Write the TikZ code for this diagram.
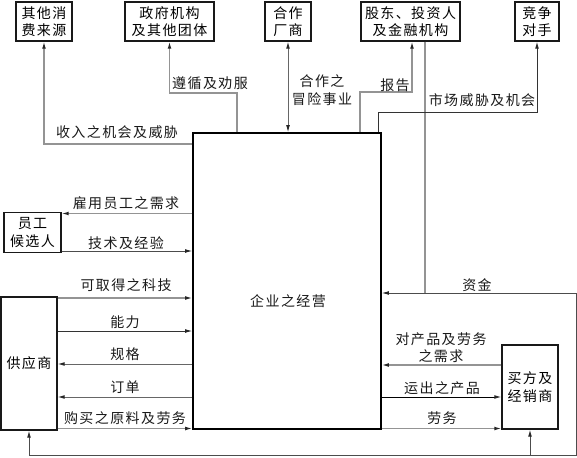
\documentclass[tikz,border=0pt]{standalone}
\usepackage{fontspec}
\setmainfont[LetterSpace=10]{Noto Sans CJK SC}
\usetikzlibrary{arrows.meta,calc}
\begin{document}
\begin{tikzpicture}[x=1pt,y=-1pt,
  font=\fontsize{14}{17.5}\selectfont,
  box/.style={draw=black!90,line width=1.3pt,inner sep=0pt,align=center},
  mainbox/.style={draw=black,line width=1.6pt,inner sep=0pt},
  lbl/.style={inner sep=0pt,align=center,text=black!90},
  lg/.style={draw=black!42,line width=1.2pt},
  dk/.style={draw=black!80,line width=0.9pt},
  tip/.style={-{Latex[length=7pt,width=3.8pt,color=black!85]}},
  tipb/.style={{Latex[length=7pt,width=3.8pt,color=black!85]}-{Latex[length=7pt,width=3.8pt,color=black!85]}}]
\useasboundingbox (0,0) rectangle (577,457);

% boxes
\node[box,minimum width=56pt,minimum height=39pt] (A) at (44,21.5) {其他消\\费来源};
\node[box,minimum width=89pt,minimum height=39pt] (B) at (169.5,21.5) {政府机构\\及其他团体};
\node[box,minimum width=46pt,minimum height=39pt] (C) at (288,21.5) {合作\\厂商};
\node[box,minimum width=99pt,minimum height=39pt] (D) at (410.5,21.5) {股东、投资人\\及金融机构};
\node[box,minimum width=44pt,minimum height=39pt] (E) at (537,21.5) {竞争\\对手};
\node[mainbox,minimum width=188pt,minimum height=296pt] (M) at (287,281) {};
\node[lbl] (Mt) at (288,301) {企业之经营};
\node[box,minimum width=57pt,minimum height=40pt] (F) at (32.5,232.5) {员工\\候选人};
\node[box,minimum width=56pt,minimum height=133pt] (G) at (29,363.5) {供应商};
\node[box,minimum width=56pt,minimum height=84pt] (H) at (530,387) {买方及\\经销商};

% helper coordinates
\coordinate (p1) at (45,144);
\coordinate (q1) at (237,93);
\coordinate (r1) at (360,92);
\coordinate (m1) at (378,112);
\coordinate (s1) at (425,293);
\coordinate (y213) at (0,213.5);
\coordinate (y251) at (0,251);
\coordinate (y297) at (0,298);
\coordinate (y331) at (0,331);
\coordinate (y364) at (0,364);
\coordinate (y397) at (0,397);
\coordinate (y429) at (0,428.5);
\coordinate (y365) at (0,365);
\coordinate (fr) at (576,293);
\coordinate (fb) at (576,455);

% top connectors
\draw[lg,tip] (M.west |- p1) -| (A.south);
\draw[lg,tip] (M.north -| q1) -- (q1) -| (B.south);
\draw[dk,draw=black!60,tipb] (C.south) -- (C.south |- M.north);
\draw[lg,tip] (M.north -| r1) -- (r1) -| ([xshift=1.5pt]D.south);
\draw[lg] ([xshift=14.5pt]D.south) -- (s1);
\draw[dk,tip] (M.north -| m1) -- (m1) -| (E.south);

% left connectors
\draw[lg,tip] (M.west |- y213) -- (F.east |- y213);
\draw[dk,draw=black!70,tip] (F.east |- y251) -- (M.west |- y251);
\draw[lg,tip] (G.east |- y297) -- (M.west |- y297);
\draw[dk,tip] (G.east |- y331) -- (M.west |- y331);
\draw[dk,draw=black!60,tip] (M.west |- y364) -- (G.east |- y364);
\draw[dk,draw=black!60,tip] (M.west |- y397) -- (G.east |- y397);
\draw[lg,tip] (G.east |- y429) -- (M.west |- y429);

% right connectors
\draw[dk,draw=black!70] (G.south |- fb) -- (fb) -- (fr);
\draw[dk,draw=black!70,tip] (fr) -- (M.east |- fr);
\draw[dk,draw=black!70,tip] (G.south |- fb) -- (G.south);
\draw[dk,draw=black!70,tip] (H.south |- fb) -- (H.south);
\draw[lg,tip] (H.west |- y365) -- (M.east |- y365);
\draw[dk,draw=black,tip] (M.east |- y397) -- (H.west |- y397);
\draw[lg,tip] (M.east |- y429) -- (H.west |- y429);

% labels
\node[lbl] (t1) at (117,132) {收入之机会及威胁};
\node[lbl] (t2) at (210,83) {遵循及劝服};
\node[lbl] (t3) at (322,90) {合作之\\冒险事业};
\node[lbl] (t4) at (395,85) {报告};
\node[lbl] (t5) at (482,100) {市场威胁及机会};
\node[lbl] (t6) at (126,203) {雇用员工之需求};
\node[lbl] (t7) at (126,243) {技术及经验};
\node[lbl] (t8) at (126,285) {可取得之科技};
\node[lbl] (t9) at (125,322) {能力};
\node[lbl] (t10) at (125,354) {规格};
\node[lbl] (t11) at (125,387) {订单};
\node[lbl] (t12) at (125,418) {购买之原料及劳务};
\node[lbl] (t13) at (477,285) {资金};
\node[lbl] (t14) at (441,347.5) {对产品及劳务\\之需求};
\node[lbl] (t15) at (442,388) {运出之产品};
\node[lbl] (t16) at (442,418) {劳务};
\end{tikzpicture}
\end{document}
